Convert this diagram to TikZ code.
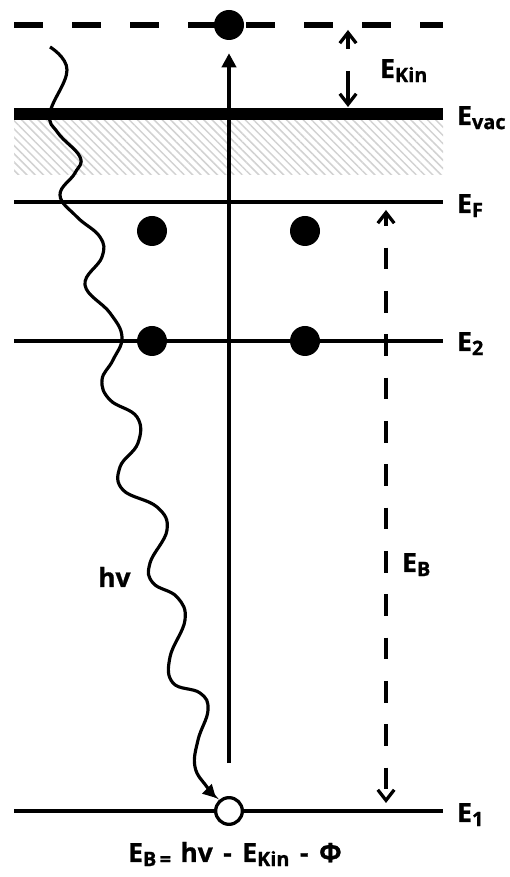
\documentclass[tikz,border=0pt]{standalone}
\usepackage{fontspec}
\setmainfont[BoldFeatures={FakeBold=1}]{Open Sans}
\usetikzlibrary{arrows.meta,patterns.meta,positioning}

\newcommand{\lsub}[1]{\raisebox{-3.5pt}{\fontsize{17}{19}\selectfont #1}}

\tikzset{
  eline/.style={line width=3.8pt},
  electron/.style={circle, fill=black, minimum size=0.9cm, inner sep=0pt},
  hole/.style={circle, draw, line width=2.8pt, fill=white, minimum size=0.8cm, inner sep=0pt},
  elabel/.style={anchor=base west, inner sep=0pt, font=\fontsize{22.5}{26}\selectfont\bfseries},
  barb/.style={-{Straight Barb[length=9pt,width=14pt]}, line width=2.8pt},
}

\begin{document}
\begin{tikzpicture}
  \useasboundingbox (0,0) rectangle (15.27,26.31);

  % hatched band under the vacuum level
  \fill[pattern={Lines[angle=-45,distance=5pt,line width=1.3pt]}, pattern color=gray!35]
    (0.42,21.06) rectangle (13.29,22.71);

  % level ends
  \coordinate (top-l) at (0.42,25.56);  \coordinate (top-r) at (13.29,25.56);
  \coordinate (vac-l) at (0.42,22.89);  \coordinate (vac-r) at (13.29,22.89);
  \coordinate (F-l)   at (0.42,20.25);  \coordinate (F-r)   at (13.29,20.25);
  \coordinate (two-l) at (0.42,16.08);  \coordinate (two-r) at (13.29,16.08);
  \coordinate (one-l) at (0.42,1.98);   \coordinate (one-r) at (13.29,1.98);

  \draw[line width=4.8pt, dash pattern=on 0.87cm off 0.87cm] (top-l) -- (top-r);
  \draw[line width=10.5pt] (vac-l) -- (vac-r);
  \draw[eline] (F-l) -- (F-r);
  \draw[eline] (two-l) -- (two-r);
  \draw[eline] (one-l) -- (one-r);

  \node[elabel] (Evac) at (13.71,22.56) {E\lsub{vac}};
  \node[elabel] (EF)   at (13.71,19.92) {E\lsub{F}};
  \node[elabel] (E2)   at (13.71,15.78) {E\lsub{2}};
  \node[elabel] (E1)   at (13.71,1.65)  {E\lsub{1}};

  % electrons and the hole
  \node[electron] (free) at (6.87,25.56) {};
  \node[electron] (F1)   at (4.56,19.38) {};
  \node[electron] (F2)   at (9.15,19.38) {};
  \node[electron] (two1) at (4.56,16.08) {};
  \node[electron] (two2) at (9.15,16.08) {};
  \node[hole]     (gap)  at (6.87,1.98)  {};

  \draw[line width=3pt, -{Triangle[length=12pt,width=12pt]}, shorten <=0.99cm, shorten >=0.39cm]
    (gap) -- (free);

  % kinetic energy
  \coordinate (kin-a) at (10.44,24.84); \coordinate (kin-b) at (10.44,25.41);
  \coordinate (kin-c) at (10.44,24.18); \coordinate (kin-d) at (10.44,23.10);
  \draw[barb] (kin-a) -- (kin-b);
  \draw[barb] (kin-c) -- (kin-d);
  \node[elabel] (Ekin) at (11.40,23.97) {E\lsub{Kin}};

  % binding energy
  \coordinate (B-top) at (11.58,20.01); \coordinate (B-bot) at (11.58,2.22);
  \draw[barb, {Straight Barb[length=9pt,width=14pt]}-{Straight Barb[length=9pt,width=14pt]},
    dash pattern=on 0.65cm off 0.65cm, dash phase=0.3cm] (B-top) -- (B-bot);
  \node[elabel] (EB) at (12.06,9.15) {E\lsub{B}};

  % photon
  \draw[line width=2.7pt, -{Triangle[length=11pt,width=11pt]}, shorten >=3pt]
    plot[smooth, tension=0.7] coordinates {
      (1.50,24.90) (2.01,24.21) (1.50,22.92) (1.74,22.32) (2.40,21.60) (2.25,21.12)
      (1.80,20.46) (2.31,19.80) (3.00,19.20) (3.06,18.60) (2.55,17.76) (3.30,16.92)
      (3.66,16.20) (3.39,15.51) (3.06,14.91) (3.30,14.31) (4.11,13.80) (4.14,13.02)
      (3.60,12.30) (3.69,11.61) (4.71,11.10) (5.01,10.41) (4.50,9.42) (4.59,8.82)
      (5.31,8.40) (5.55,7.71) (5.10,6.60) (5.19,5.82) (6.00,5.52) (6.24,5.01)
      (5.94,4.11) (5.85,3.30) (6.21,2.70) (gap.135)};
  \node[elabel] (hv) at (2.94,8.70) {hv};

  \node[elabel] (law) at (3.84,0.45)
    {E\lsub{B\,=}\hspace{8pt}hv\hspace{9pt}-\hspace{9pt}E\lsub{Kin}\hspace{9pt}-\hspace{9pt}Φ};
\end{tikzpicture}
\end{document}
